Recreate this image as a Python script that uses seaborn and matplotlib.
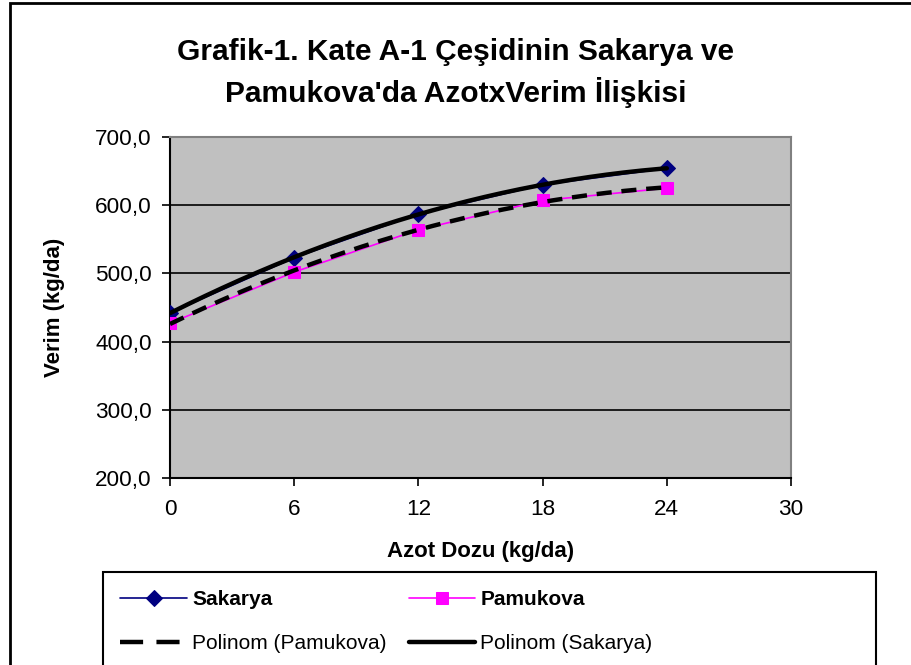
import numpy as np
import pandas as pd
import matplotlib
matplotlib.use("Agg")
import matplotlib.pyplot as plt
from matplotlib.patches import Rectangle
import seaborn as sns

# ---- data ----
azot = [0, 6, 12, 18, 24]
sakarya = [442.0, 523.0, 587.0, 630.0, 654.0]
pamukova = [427.0, 502.0, 564.0, 607.0, 625.0]
x_ticks = [0, 6, 12, 18, 24, 30]
y_ticks = [200, 300, 400, 500, 600, 700]

sns.set_style("white")
plt.rcParams['font.family'] = ['Liberation Sans', 'DejaVu Sans']
plt.rcParams['text.color'] = 'black'
plt.rcParams['axes.labelcolor'] = 'black'

W, H = 912, 665
fig = plt.figure(figsize=(W / 100, H / 100), dpi=100)
ax = fig.add_axes([170 / W, 1 - 478 / H, (791 - 170) / W, (478 - 137) / H])

df = pd.DataFrame({"x": azot, "Sakarya": sakarya, "Pamukova": pamukova})

# polynomial (order 2) trend lines, like the spreadsheet
xs = np.linspace(0, 24, 200)
cs = np.polyfit(azot, sakarya, 2)
cp = np.polyfit(azot, pamukova, 2)
trend = pd.DataFrame({"x": xs, "ts": np.polyval(cs, xs), "tp": np.polyval(cp, xs)})

ax.set_facecolor("#C0C0C0")
for y in y_ticks[1:-1]:
    ax.axhline(y, color="black", lw=1.2, zorder=1)

sns.lineplot(data=df, x="x", y="Sakarya", ax=ax, color="#000080", lw=1.2,
             marker="D", markersize=8.5, markeredgecolor="#000080", zorder=3, label="Sakarya")
sns.lineplot(data=df, x="x", y="Pamukova", ax=ax, color="#FF00FF", lw=1.2,
             marker="s", markersize=8.5, markeredgecolor="#FF00FF", zorder=3, label="Pamukova")
sns.lineplot(data=trend, x="x", y="tp", ax=ax, color="black", lw=3.2,
             linestyle=(0, (3.4, 2.2)), zorder=4, label="Polinom (Pamukova)")
sns.lineplot(data=trend, x="x", y="ts", ax=ax, color="black", lw=3.2,
             zorder=4, label="Polinom (Sakarya)")

ax.set_xlim(0, 30)
ax.set_ylim(200, 700)
ax.set_xticks(x_ticks)
ax.set_yticks(y_ticks)
ax.set_yticklabels([f"{v:.1f}".replace(".", ",") for v in y_ticks])
ax.tick_params(axis="both", direction="out", length=6, width=1.2, colors="black",
               labelsize=16.2, pad=7, left=True, bottom=True)
ax.tick_params(axis="x", pad=9)
for s in ["left", "bottom"]:
    ax.spines[s].set_color("black")
    ax.spines[s].set_linewidth(1.5)
for s in ["top", "right"]:
    ax.spines[s].set_color("#808080")
    ax.spines[s].set_linewidth(1.5)

ax.set_xlabel("Azot Dozu (kg/da)", fontsize=16, fontweight="bold", labelpad=15)
ax.set_ylabel("Verim (kg/da)", fontsize=16, fontweight="bold", labelpad=22)

fig.text(0.5, 1 - 73 / H, "Grafik-1. Kate A-1 Çeşidinin Sakarya ve\nPamukova'da AzotxVerim İlişkisi",
         ha="center", va="center", fontsize=21.5, fontweight="bold", linespacing=1.42)

ax.get_legend().remove()
handles, labels = ax.get_legend_handles_labels()
order = [0, 2, 1, 3]
leg = fig.legend([handles[i] for i in order], [labels[i] for i in order],
                 loc="upper left", bbox_to_anchor=(114 / W, 1 - 584 / H),
                 ncol=2, frameon=False, fontsize=15, handlelength=3.2,
                 handletextpad=0.25, borderpad=0.3, borderaxespad=0,
                 labelspacing=1.2, columnspacing=1.05)
for t in leg.get_texts():
    if t.get_text() in ("Sakarya", "Pamukova"):
        t.set_fontweight("bold")
for h, t in zip(leg.legend_handles, leg.get_texts()):
    if t.get_text() == "Polinom (Pamukova)":
        h.set_linestyle((0, (5.2, 3.0)))

# legend box
fig.patches.append(Rectangle((103 / W, -0.05), (876 - 103) / W, 0.05 + 1 - 572 / H,
                             transform=fig.transFigure, fill=False, edgecolor="black", lw=1.5))
# outer chart border
fig.patches.append(Rectangle((10 / W, -0.1), 1.2, 1 - 3 / H + 0.1, transform=fig.transFigure,
                             fill=False, edgecolor="black", lw=2))

fig.savefig("out.png", dpi=100)
